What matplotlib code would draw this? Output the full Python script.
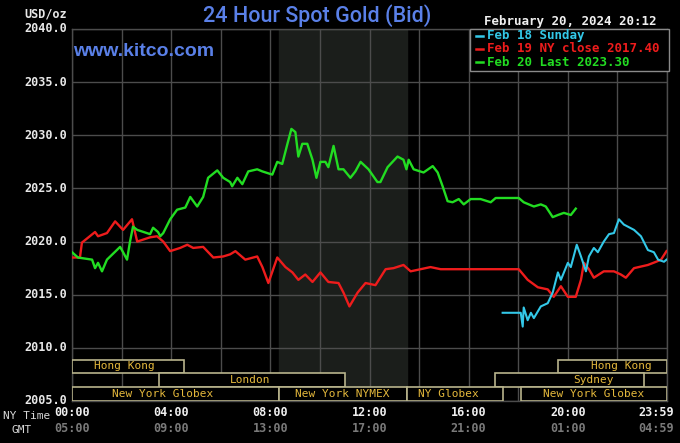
import matplotlib
matplotlib.use("Agg")
import matplotlib.pyplot as plt
from matplotlib.patches import Rectangle

# ---------------- data (hours since 00:00 NY time, price USD/oz) ----------------
red_hours = [0.00, 0.32, 0.40, 0.93, 1.05, 1.41, 1.74, 2.06, 2.42, 2.63, 3.15, 3.43, 3.68, 3.96,
             4.36, 4.65, 4.89, 5.29, 5.70, 6.10, 6.38, 6.59, 6.99, 7.47, 7.68, 7.92, 8.28, 8.61,
             8.89, 9.13, 9.41, 9.70, 10.02, 10.34, 10.75, 10.95, 11.19, 11.52, 11.84, 12.24,
             12.65, 12.97, 13.37, 13.66, 14.46, 14.87, 18.02, 18.38, 18.79, 19.19, 19.43, 19.72,
             20.00, 20.32, 20.53, 20.65, 20.85, 21.05, 21.45, 21.86, 22.14, 22.34, 22.67, 23.23,
             23.56, 23.76, 23.98]
red_prices = [2018.5, 2018.5, 2019.9, 2020.9, 2020.5, 2020.8, 2021.9, 2021.1, 2022.1, 2020.0,
              2020.4, 2020.5, 2020.0, 2019.1, 2019.4, 2019.7, 2019.4, 2019.5, 2018.5, 2018.6,
              2018.8, 2019.1, 2018.3, 2018.6, 2017.6, 2016.1, 2018.5, 2017.6, 2017.1, 2016.4,
              2016.9, 2016.2, 2017.1, 2016.2, 2016.1, 2015.2, 2013.9, 2015.2, 2016.1, 2015.9,
              2017.4, 2017.5, 2017.8, 2017.2, 2017.6, 2017.4, 2017.4, 2016.4, 2015.7, 2015.5,
              2014.8, 2015.8, 2014.8, 2014.8, 2016.4, 2018.0, 2017.4, 2016.6, 2017.2, 2017.2,
              2016.9, 2016.6, 2017.5, 2017.8, 2018.1, 2018.3, 2019.1]

green_hours = [0.00, 0.24, 0.81, 0.93, 1.05, 1.21, 1.41, 1.94, 2.06, 2.22, 2.34, 2.46, 2.63,
               3.15, 3.27, 3.47, 3.56, 3.68, 3.96, 4.24, 4.57, 4.77, 5.05, 5.29, 5.49, 5.86,
               6.10, 6.38, 6.46, 6.67, 6.87, 7.11, 7.47, 7.68, 8.08, 8.28, 8.48, 8.69, 8.85,
               9.01, 9.13, 9.29, 9.49, 9.70, 9.86, 10.02, 10.22, 10.34, 10.55, 10.75, 10.95,
               11.23, 11.43, 11.64, 11.96, 12.32, 12.44, 12.73, 13.13, 13.37, 13.49, 13.58,
               13.78, 14.18, 14.55, 14.75, 14.95, 15.15, 15.35, 15.60, 15.80, 16.08, 16.48,
               16.89, 17.09, 18.02, 18.22, 18.63, 18.91, 19.11, 19.39, 19.60, 19.84, 20.12, 20.32]
green_prices = [2019.0, 2018.5, 2018.3, 2017.5, 2018.0, 2017.2, 2018.3, 2019.5, 2019.0, 2018.3,
                2020.0, 2021.4, 2021.1, 2020.7, 2021.3, 2020.9, 2020.5, 2020.8, 2022.1, 2023.0,
                2023.2, 2024.2, 2023.3, 2024.2, 2026.0, 2026.7, 2026.0, 2025.6, 2025.2, 2026.0,
                2025.4, 2026.6, 2026.8, 2026.6, 2026.3, 2027.5, 2027.3, 2029.2, 2030.6, 2030.3,
                2028.0, 2029.2, 2029.2, 2027.7, 2026.0, 2027.5, 2027.5, 2027.0, 2029.0, 2026.8,
                2026.8, 2026.0, 2026.6, 2027.5, 2026.8, 2025.6, 2025.6, 2027.0, 2028.0, 2027.7,
                2026.8, 2027.7, 2026.8, 2026.5, 2027.1, 2026.5, 2025.2, 2023.8, 2023.7, 2024.0,
                2023.5, 2024.0, 2024.0, 2023.7, 2024.1, 2024.1, 2023.7, 2023.3, 2023.5, 2023.3,
                2022.3, 2022.5, 2022.7, 2022.5, 2023.1]

cyan_hours = [17.37, 18.10, 18.18, 18.22, 18.38, 18.51, 18.63, 18.91, 19.19, 19.39, 19.60, 19.72,
              20.00, 20.12, 20.36, 20.53, 20.73, 20.85, 21.05, 21.21, 21.45, 21.66, 21.86, 22.06,
              22.26, 22.67, 22.95, 23.23, 23.47, 23.64, 23.88, 23.98]
cyan_prices = [2013.3, 2013.3, 2012.0, 2013.8, 2012.6, 2013.3, 2012.8, 2013.9, 2014.2, 2015.2,
               2017.1, 2016.4, 2018.0, 2017.6, 2019.7, 2018.6, 2017.2, 2018.6, 2019.4, 2019.0,
               2020.0, 2020.7, 2020.8, 2022.1, 2021.6, 2021.1, 2020.5, 2019.2, 2019.0, 2018.3,
               2018.1, 2018.3]

y_ticks = [2005, 2010, 2015, 2020, 2025, 2030, 2035, 2040]
x_tick_hours = [0, 4, 8, 12, 16, 20, 23.983]
ny_labels = ["00:00", "04:00", "08:00", "12:00", "16:00", "20:00", "23:59"]
gmt_labels = ["05:00", "09:00", "13:00", "17:00", "21:00", "01:00", "04:59"]

legend_labels = ["Feb 18 Sunday", "Feb 19 NY close 2017.40", "Feb 20 Last 2023.30"]

# market sessions: (label, start hour, end hour, row, label centre hour)
sessions = [
    ("Hong Kong", 0.0, 4.5, 0, 2.1),
    ("Hong Kong", 19.6, 24.0, 0, 22.14),
    ("London", 3.5, 11.03, 1, 7.2),
    ("Sydney", 17.05, 23.07, 1, 21.05),
    ("New York Globex", 0.0, 8.33, 2, 3.64),
    ("New York NYMEX", 8.33, 13.5, 2, 10.9),
    ("NY Globex", 13.5, 17.4, 2, 15.2),
    ("New York Globex", 18.1, 24.0, 2, 21.05),
]
pit_start, pit_end = 8.33, 13.5

# ---------------- styling ----------------
W, H = 680, 443
BG = "black"
GRID = "#4c4c4c"
RED = "#ee1c1c"
GREEN = "#22dd22"
CYAN = "#33c8e8"
BLUE = "#5a80e8"
GOLD = "#e4b83c"
BOXEDGE = "#b8b48c"
MONO = "DejaVu Sans Mono"

fig = plt.figure(figsize=(W / 100, H / 100), dpi=100, facecolor=BG)

def fx(px):
    return px / W

def fy(py):
    return 1 - py / H

ax_left, ax_right, ax_top, ax_bottom = 72, 667, 29, 401
ax = fig.add_axes([fx(ax_left), fy(ax_bottom), (ax_right - ax_left) / W, (ax_bottom - ax_top) / H])
ax.set_facecolor(BG)
ax.set_xlim(0, 24)
ax.set_ylim(2005, 2040)

# shaded pit session
ax.axvspan(pit_start, pit_end, color="#1b1e1b", zorder=0)

# grid
for h in range(0, 25, 2):
    ax.axvline(h, color=GRID, lw=1.0, zorder=1)
for v in y_ticks:
    ax.axhline(v, color=GRID, lw=1.0, zorder=1)
for s in ax.spines.values():
    s.set_color(GRID)
    s.set_linewidth(1.0)
ax.set_xticks([])
ax.set_yticks([])

# series
ax.plot(red_hours, red_prices, color=RED, lw=1.7, zorder=3, solid_joinstyle="round")
ax.plot(green_hours, green_prices, color=GREEN, lw=1.7, zorder=4, solid_joinstyle="round")
ax.plot(cyan_hours, cyan_prices, color=CYAN, lw=1.5, zorder=5, solid_joinstyle="round")

# session boxes
row_bounds = [(2007.65, 2008.9), (2006.35, 2007.65), (2005.0, 2006.35)]
for label, h0, h1, row, hc in sessions:
    y0, y1 = row_bounds[row]
    ax.add_patch(Rectangle((h0, y0), h1 - h0, y1 - y0, facecolor=BG, edgecolor=BOXEDGE,
                           lw=1.2, zorder=6))
    ax.text(hc, (y0 + y1) / 2, label, color=GOLD, fontsize=8, family=MONO,
            ha="center", va="center", zorder=7)

# kitco watermark
fig.text(fx(73), fy(51), "www.kitco.com", color=BLUE, fontsize=14, family="Liberation Sans",
         fontweight="bold", ha="left", va="center", zorder=10)

# title
fig.text(fx(317), fy(16), "24 Hour Spot Gold (Bid)", color=BLUE, fontsize=15.5,
         family="Roboto", fontweight="medium", ha="center", va="center")

# date stamp
fig.text(fx(657), fy(21), "February 20, 2024 20:12", color="#f0f0f0", fontsize=9,
         family=MONO, fontweight="bold", ha="right", va="center")

# y labels
fig.text(fx(67), fy(14), "USD/oz", color="#e8e8e8", fontsize=8.5, family=MONO,
         fontweight="bold", ha="right", va="center")
for v in y_ticks:
    py = ax_bottom - (v - 2005) * (ax_bottom - ax_top) / 35.0
    fig.text(fx(67), fy(py), f"{v:.1f}", color="#e8e8e8", fontsize=8.5, family=MONO,
             fontweight="bold", ha="right", va="center")

# x labels
fig.text(fx(3), fy(416), "NY Time", color="#d8d8d8", fontsize=8, family=MONO,
         ha="left", va="center")
fig.text(fx(12), fy(430), "GMT", color="#d8d8d8", fontsize=8, family=MONO,
         ha="left", va="center")
for h, ny, gm in zip(x_tick_hours, ny_labels, gmt_labels):
    px = ax_left + h * (ax_right - ax_left) / 24.0
    if px > 650:
        px = 656
    fig.text(fx(px), fy(413), ny, color="#f0f0f0", fontsize=8.5, family=MONO,
             fontweight="bold", ha="center", va="center")
    fig.text(fx(px), fy(429), gm, color="#7a7a7a", fontsize=8.5, family=MONO,
             fontweight="bold", ha="center", va="center")

# legend box
fig.patches.append(Rectangle((fx(470), fy(71)), fx(669) - fx(470), fy(29) - fy(71),
                             transform=fig.transFigure, facecolor=BG, edgecolor="#8a8a8a",
                             lw=1.0, zorder=20))
for i, (lab, col) in enumerate(zip(legend_labels, [CYAN, RED, GREEN])):
    py = 36 + 13 * i
    fig.lines.append(plt.Line2D([fx(476), fx(483)], [fy(py), fy(py)], transform=fig.transFigure,
                                color=col, lw=1.8, zorder=21))
    fig.text(fx(487), fy(py), lab, color=col, fontsize=9, family=MONO, fontweight="bold",
             ha="left", va="center", zorder=22)

fig.savefig("out.png", dpi=100, facecolor=BG)
